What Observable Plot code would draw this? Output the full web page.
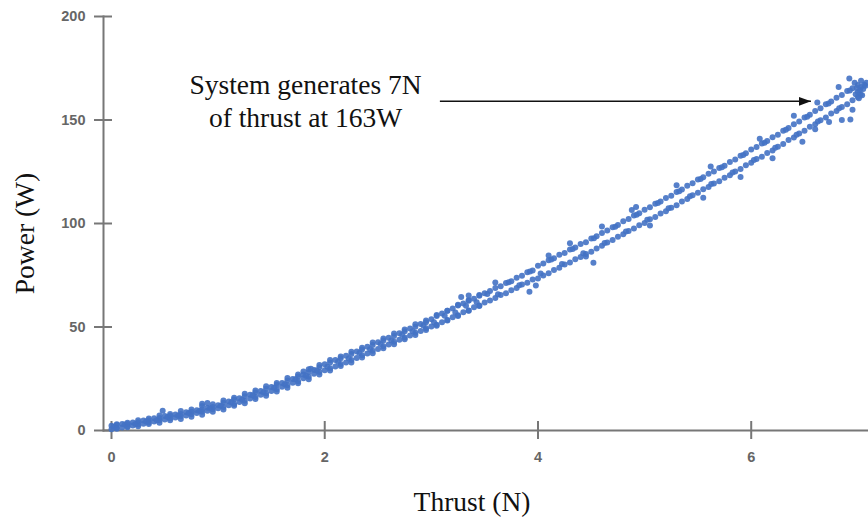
<!DOCTYPE html>
<html><head><meta charset="utf-8">
<script src="https://cdn.jsdelivr.net/npm/d3@7"></script>
<script src="https://cdn.jsdelivr.net/npm/@observablehq/plot@0.6"></script>
<style>html,body{margin:0;padding:0;background:#fff}</style>
</head><body><div id="chart"></div>
<script>
// Thrust (N), Power (W) — upper run of samples
const upperRun = [
[0,2.3],[0.05,2.6],[0.1,3.1],[0.15,3.2],[0.2,3.9],[0.25,4.0],[0.3,4.8],[0.35,5.0],[0.4,5.9],[0.45,6.0],
[0.5,7.0],[0.55,7.1],[0.6,7.7],[0.65,8.0],[0.7,8.8],[0.75,9.0],[0.8,9.8],[0.85,10.2],[0.9,11.0],[0.95,11.4],
[1,12.2],[1.05,13.4],[1.1,14.0],[1.15,15.0],[1.2,15.6],[1.25,16.6],[1.3,17.3],[1.35,18.4],[1.4,19.1],[1.45,20.2],
[1.5,21.0],[1.55,22.1],[1.6,22.9],[1.65,24.1],[1.7,24.9],[1.75,26.1],[1.8,27.0],[1.85,28.3],[1.9,29.2],[1.95,30.5],
[2,32.0],[2.05,32.9],[2.1,34.1],[2.15,34.9],[2.2,36.1],[2.25,36.9],[2.3,38.2],[2.35,39.1],[2.4,40.4],[2.45,41.3],
[2.5,42.6],[2.55,43.5],[2.6,44.8],[2.65,45.7],[2.7,47.0],[2.75,48.0],[2.8,49.3],[2.85,50.1],[2.9,51.4],[2.95,52.3],
[3,53.8],[3.05,55.3],[3.1,56.5],[3.15,57.9],[3.2,58.9],[3.25,60.4],[3.3,61.3],[3.35,62.8],[3.4,63.7],[3.45,65.1],
[3.5,66.3],[3.55,67.4],[3.6,68.9],[3.65,69.7],[3.7,71.2],[3.75,72.1],[3.8,73.8],[3.85,74.7],[3.9,76.4],[3.95,77.3],
[4,79.6],[4.05,80.7],[4.1,82.3],[4.15,83.2],[4.2,84.9],[4.25,85.8],[4.3,87.5],[4.35,88.4],[4.4,90.1],[4.45,91.0],
[4.5,92.7],[4.55,93.9],[4.6,95.4],[4.65,96.6],[4.7,98.2],[4.75,99.3],[4.8,101.1],[4.85,102.2],[4.9,103.9],[4.95,105.0],
[5,106.7],[5.05,107.8],[5.1,109.5],[5.15,110.6],[5.2,112.3],[5.25,113.4],[5.3,115.2],[5.35,116.4],[5.4,118.2],[5.45,119.4],
[5.5,121.2],[5.55,122.3],[5.6,124.0],[5.65,125.1],[5.7,126.8],[5.75,127.9],[5.8,129.7],[5.85,130.9],[5.9,132.7],[5.95,133.9],
[6,135.7],[6.05,136.9],[6.1,138.7],[6.15,139.9],[6.2,141.7],[6.25,142.9],[6.3,144.8],[6.35,146.1],[6.4,148.0],[6.45,149.3],
[6.5,151.2],[6.55,152.5],[6.6,154.4],[6.65,155.7],[6.7,157.6],[6.75,158.9],[6.8,160.8],[6.85,162.1],[6.9,164.0],[6.95,165.3],
[7,166.9]
];
// lower run of samples
const lowerRun = [
[0,0.6],[0.05,1.2],[0.1,1.5],[0.15,2.1],[0.2,2.4],[0.25,2.9],[0.3,3.3],[0.35,3.9],[0.4,4.3],[0.45,4.9],
[0.5,5.3],[0.55,5.9],[0.6,6.3],[0.65,6.9],[0.7,7.3],[0.75,7.9],[0.8,8.4],[0.85,9.1],[0.9,9.6],[0.95,10.3],
[1,10.8],[1.05,11.4],[1.1,12.2],[1.15,12.8],[1.2,13.8],[1.25,14.4],[1.3,15.5],[1.35,16.2],[1.4,17.3],[1.45,18.0],
[1.5,19.1],[1.55,19.9],[1.6,21.1],[1.65,21.9],[1.7,23.1],[1.75,23.8],[1.8,25.2],[1.85,26.0],[1.9,27.4],[1.95,28.3],
[2,29.1],[2.05,30.1],[2.1,30.9],[2.15,32.1],[2.2,32.9],[2.25,34.1],[2.3,35.0],[2.35,36.3],[2.4,37.2],[2.45,38.5],
[2.5,39.4],[2.55,40.7],[2.6,41.6],[2.65,42.9],[2.7,43.8],[2.75,44.9],[2.8,45.9],[2.85,47.2],[2.9,48.1],[2.95,49.4],
[3,50.2],[3.05,51.1],[3.1,52.3],[3.15,53.4],[3.2,54.7],[3.25,55.7],[3.3,57.1],[3.35,58.0],[3.4,59.5],[3.45,60.4],
[3.5,61.8],[3.55,62.8],[3.6,64.0],[3.65,65.4],[3.7,66.3],[3.75,67.8],[3.8,68.9],[3.85,70.5],[3.9,71.4],[3.95,73.0],
[4,73.4],[4.05,74.9],[4.1,76.0],[4.15,77.5],[4.2,78.6],[4.25,80.2],[4.3,81.2],[4.35,82.7],[4.4,83.8],[4.45,85.3],
[4.5,86.4],[4.55,87.9],[4.6,89.2],[4.65,90.8],[4.7,92.0],[4.75,93.6],[4.8,94.8],[4.85,96.4],[4.9,97.6],[4.95,99.2],
[5,100.3],[5.05,102.0],[5.1,103.1],[5.15,104.8],[5.2,105.9],[5.25,107.6],[5.3,108.8],[5.35,110.6],[5.4,111.8],[5.45,113.6],
[5.5,114.8],[5.55,116.5],[5.6,117.6],[5.65,119.3],[5.7,120.4],[5.75,122.1],[5.8,123.3],[5.85,125.1],[5.9,126.3],[5.95,128.1],
[6,129.3],[6.05,131.1],[6.1,132.3],[6.15,134.1],[6.2,135.3],[6.25,137.1],[6.3,138.4],[6.35,140.3],[6.4,141.6],[6.45,143.5],
[6.5,144.8],[6.55,146.7],[6.6,148.0],[6.65,149.9],[6.7,151.2],[6.75,153.1],[6.8,154.4],[6.85,156.3],[6.9,157.6],[6.95,159.5],
[7,161.1]
];
// samples between the two runs
const middleRun = [
[0.025,1.8],[0.125,2.9],[0.225,3.2],[0.325,4.4],[0.425,5.0],[0.525,6.5],[0.625,7.1],[0.725,8.5],[0.825,9.4],[0.925,10.9],
[1.025,11.9],[1.125,13.7],[1.225,14.9],[1.325,17.0],[1.425,18.5],[1.525,20.6],[1.625,22.3],[1.725,24.7],[1.825,26.5],[1.925,29.0],
[2.025,30.8],[2.125,33.2],[2.225,34.8],[2.325,37.4],[2.425,39.2],[2.525,41.8],[2.625,43.5],[2.725,46.2],[2.825,47.9],[2.925,50.7],
[3.025,52.3],[3.125,55.4],[3.225,57.0],[3.325,60.3],[3.425,61.9],[3.525,65.9],[3.625,65.8],[3.725,71.6],[3.825,70.2],[3.925,76.8],
[4.025,75.9],[4.125,82.6],[4.225,80.4],[4.325,87.7],[4.425,85.6],[4.525,92.9],[4.625,90.6],[4.725,98.4],[4.825,96.1],[4.925,104.2],
[5.025,101.8],[5.125,109.9],[5.225,107.4],[5.325,115.6],[5.425,113.2],[5.525,121.5],[5.625,119.1],[5.725,127.2],[5.825,124.6],[5.925,133.1],
[6.025,130.7],[6.125,139.0],[6.225,136.6],[6.325,145.3],[6.425,142.9],[6.525,151.6],[6.625,149.3],[6.725,158.0],[6.825,155.7],[6.925,164.3],
[7.025,162.3]
];
// upper and lower edge of the band at low thrust
const upperEdge = [
[0.05,3.0],[0.15,3.8],[0.25,5.0],[0.35,5.8],[0.45,7.2],[0.55,8.0],[0.65,9.4],[0.75,10.2],[0.85,11.8],[0.95,12.7],
[1.05,14.5],[1.15,15.8],[1.25,17.8],[1.35,19.3],[1.45,21.4],[1.55,23.0],[1.65,25.4],[1.75,27.1],[1.85,29.6],[1.95,31.6],
[2.05,34.0],[2.15,35.7],[2.25,38.1],[2.35,40.0],[2.45,42.5],[2.55,44.4],[2.65,46.9],[2.75,48.8],[2.85,51.3],[2.95,53.2],
[3.05,55.8],[3.15,57.9],[3.25,60.7],[3.35,62.8],[3.45,65.5]
];
const lowerEdge = [
[0.05,0.9],[0.15,1.6],[0.25,2.0],[0.35,3.1],[0.45,3.8],[0.55,4.9],[0.65,5.6],[0.75,6.7],[0.85,7.6],[0.95,9.0],
[1.05,10.1],[1.15,11.9],[1.25,13.2],[1.35,15.2],[1.45,16.8],[1.55,18.9],[1.65,20.6],[1.75,22.8],[1.85,24.8],[1.95,27.1],
[2.05,29.0],[2.15,31.2],[2.25,32.9],[2.35,35.3],[2.45,37.3],[2.55,39.7],[2.65,41.7],[2.75,44.1],[2.85,46.1],[2.95,48.5],
[3.05,50.6],[3.15,53.2],[3.25,55.3],[3.35,57.9],[3.45,60.1]
];
// scattered readings off the main band
const strayPoints = [
[0.48,9.6],[0.85,12.9],[0.9,13.3],[1.8,28.5],[1.87,29.8],
[3.28,64.5],[3.35,65.2],[3.6,71.5],[3.92,67.0],[3.98,70.1],[4.1,84.5],[4.3,90.5],[4.52,81.0],[4.45,84.0],
[4.6,98.5],[4.88,106.5],[4.92,108.0],[5.05,99.0],[5.3,118.5],[5.55,112.5],[5.62,127.5],[5.9,122.5],
[6.08,141.0],[6.2,131.5],[6.4,152.0],[6.48,139.5],[6.62,158.5],[6.6,145.5],[6.73,149.0],[6.85,150.0],
[6.93,150.2],[6.95,155.0],[6.82,166.0],[6.92,170.0],[6.97,168.0]
];
// readings held at full thrust
const peakCluster = [
[6.98,162.5],[7.0,163.5],[7.02,164.5],[7.03,166.0],[7.05,165.0],[7.06,167.0],
[7.04,162.0],[7.01,160.5],[6.99,165.5],[7.07,166.5],[7.08,168.0],[7.03,169.0]
];
const xTicks = [0, 2, 4, 6];
const yTicks = [0, 50, 100, 150, 200];
const xDomain = [-0.075, 7.1];
const yDomain = [0, 200];
const xTitle = "Thrust (N)";
const yTitle = "Power (W)";
const noteText = "System generates 7N\nof thrust at 163W";
const noteAnchor = [{thrust: 1.82, power: 159.5}];
const noteArrow = [{x1: 3.08, y1: 159, x2: 6.56, y2: 159}];

const points = [...upperRun, ...lowerRun, ...middleRun, ...upperEdge, ...lowerEdge, ...strayPoints, ...peakCluster]
  .map(([thrust, power]) => ({thrust, power}));

const axisColor = "#777";
const serif = "'Liberation Serif', 'Times New Roman', serif";
const sans = "'Liberation Sans', Arial, sans-serif";

const filledHead = (color, context) => {
  const m = d3.create("svg:marker")
    .attr("viewBox", "0 -5 12 10")
    .attr("refX", 12).attr("refY", 0)
    .attr("markerWidth", 12).attr("markerHeight", 10)
    .attr("markerUnits", "userSpaceOnUse")
    .attr("orient", "auto");
  m.append("path").attr("d", "M0,-4.5L12,0L0,4.5Z").attr("fill", color).attr("stroke", "none");
  return m.node();
};

const chart = Plot.plot({
  width: 868,
  height: 523,
  marginLeft: 103,
  marginRight: 0,
  marginTop: 16,
  marginBottom: 93,
  style: {background: "#fff", overflow: "visible"},
  x: {domain: xDomain},
  y: {domain: yDomain},
  marks: [
    Plot.frame({anchor: "left", stroke: axisColor, strokeWidth: 2}),
    Plot.frame({anchor: "bottom", stroke: axisColor, strokeWidth: 2}),
    Plot.axisY(yTicks, {tickSize: 18, dx: 9, tickPadding: 9, stroke: axisColor, strokeWidth: 2,
      fill: "#666", fontSize: 14.5, fontWeight: "bold", fontFamily: sans, label: null, tickFormat: d => d}),
    Plot.axisX(xTicks, {tickSize: 18, dy: -9, tickPadding: 12, stroke: axisColor, strokeWidth: 2,
      fill: "#666", fontSize: 14.5, fontWeight: "bold", fontFamily: sans, label: null, tickFormat: d => d}),
    Plot.dot(points, {x: "thrust", y: "power", r: 3, fill: "#4472c4", fillOpacity: 0.9}),
    Plot.text(noteAnchor, {x: "thrust", y: "power", text: () => noteText, fontFamily: serif,
      fontSize: 27.5, lineHeight: 1.2, fill: "#111", textAnchor: "middle"}),
    Plot.link(noteArrow, {x1: "x1", y1: "y1", x2: "x2", y2: "y2", stroke: "#111", strokeWidth: 1.5, markerEnd: filledHead}),
    Plot.text([yTitle], {frameAnchor: "left", textAnchor: "middle", dx: -78, dy: 10, rotate: -90, fontFamily: serif, fontSize: 27.5, fill: "#111"}),
    Plot.text([xTitle], {frameAnchor: "bottom", textAnchor: "middle", dx: -14, dy: 80, fontFamily: serif, fontSize: 27.5, fill: "#111"})
  ]
});
document.getElementById("chart").appendChild(chart);
</script>
</body></html>
